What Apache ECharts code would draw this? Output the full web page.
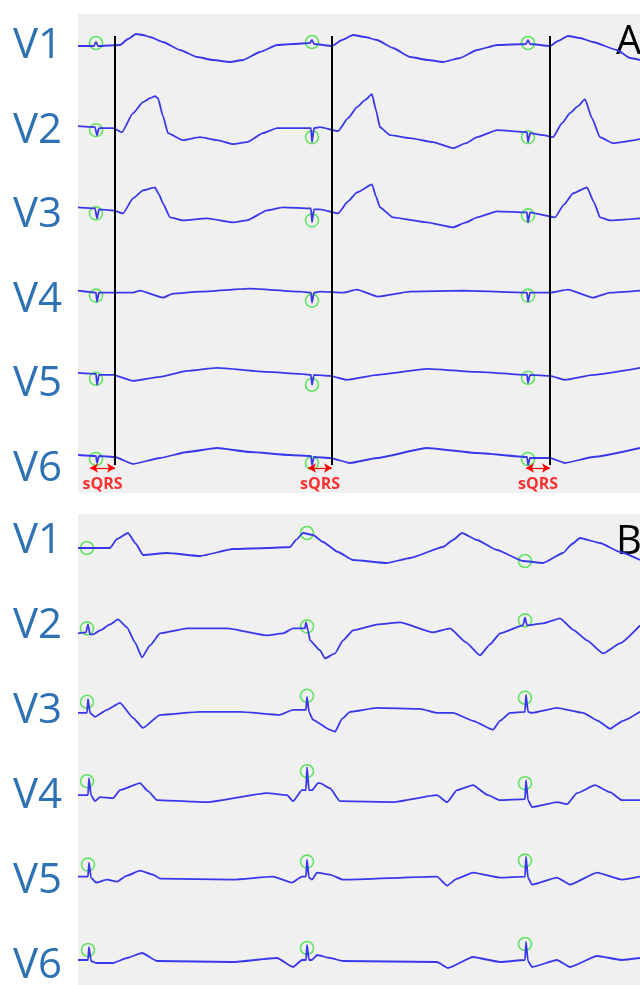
<!DOCTYPE html>
<html><head><meta charset="utf-8">
<script src="https://cdn.jsdelivr.net/npm/echarts@6/dist/echarts.min.js"></script>
<style>html,body{margin:0;padding:0;background:#fff}#c{width:640px;height:985px}</style>
</head><body><div id="c"></div>
<script>
// ---- data: [time, amplitude] per lead ----
const leads = ['V1','V2','V3','V4','V5','V6'];
const panels = ['A','B'];
const aV1=[[0,0],[16,0],[18,4],[20,0],[42,1],[50,7],[58,12],[65,11],[72,9],[85,4],[102,-4],[119,-11],[135,-14],[152,-16],[165,-14],[182,-6],[199,1],[215,2],[232,3],[234,6],[236,2],[254,0],[264,6],[275,11],[287,9],[299,6],[315,-2],[332,-11],[350,-14],[365,-16],[382,-12],[399,-4],[419,1],[448,2],[450,6],[452,2],[472,0],[480,5],[490,10],[502,8],[515,4],[539,-4],[552,-12],[562,-14]];
const aV2=[[0,2],[17,1],[19,-7],[21,0],[35,0],[44,-4],[55,15],[65,26],[72,30],[77,32],[80,30],[85,12],[90,-5],[105,-12],[122,-9],[139,-12],[155,-16],[169,-14],[185,-5],[199,0],[233,0],[234,-14],[236,0],[242,1],[260,-3],[270,10],[279,21],[287,28],[294,34],[298,18],[302,1],[312,-7],[332,-10],[355,-14],[375,-20],[388,-15],[399,-9],[419,-2],[449,-4],[450,-14],[452,-5],[465,-7],[475,-9],[484,5],[492,15],[500,22],[507,29],[514,10],[522,-9],[535,-15],[562,-11]];
const aV3=[[0,3],[17,2],[19,-8],[21,1],[35,0],[45,-3],[55,12],[65,20],[77,23],[81,16],[85,7],[92,-7],[105,-10],[129,-8],[155,-12],[169,-10],[189,0],[205,3],[233,2],[234,-12],[236,1],[242,1],[260,-3],[270,9],[279,18],[294,26],[298,14],[302,3],[315,-7],[349,-12],[375,-17],[388,-12],[399,-7],[419,-1],[449,-2],[450,-12],[452,-2],[477,-7],[486,6],[495,17],[509,23],[516,8],[522,-7],[532,-10],[562,-8]];
const aV4=[[0,2],[18,0],[19,-9],[21,0],[35,0],[55,0],[62,2],[85,-5],[95,-1],[122,1],[172,4],[222,1],[233,0],[234,-10],[236,0],[242,1],[265,0],[279,3],[300,-4],[332,1],[385,2],[449,0],[450,-9],[452,0],[472,0],[490,3],[515,-5],[532,0],[562,2]];
const aV5=[[0,2],[18,1],[19,-10],[21,0],[35,0],[55,-6],[82,-2],[109,4],[139,7],[189,3],[222,1],[233,0],[234,-10],[236,0],[252,-1],[269,-5],[299,0],[349,6],[399,3],[449,0],[450,-8],[452,0],[472,-1],[487,-5],[515,0],[562,7]];
const aV6=[[0,2],[18,1],[19,-6],[21,1],[37,0],[55,-7],[82,-1],[109,5],[139,9],[172,5],[212,2],[233,1],[234,-8],[236,0],[252,-1],[272,-6],[299,-1],[349,9],[399,4],[449,0],[450,-8],[452,-1],[472,-1],[487,-6],[515,0],[562,9]];
const bV1=[[0,0],[32,0],[39,9],[50,15],[58,4],[65,-7],[89,-5],[122,-8],[155,-1],[189,0],[212,1],[218,8],[225,15],[235,13],[245,6],[260,-4],[275,-12],[309,-15],[332,-10],[365,1],[375,8],[384,15],[399,8],[419,-2],[445,-13],[465,-15],[485,-5],[494,4],[502,10],[522,5],[542,-4],[562,-12]];
const bV2=[[0,-3],[8,-2],[10,6],[12,-4],[15,-4],[22,0],[32,6],[40,11],[49,3],[57,-12],[64,-27],[72,-15],[82,-3],[109,2],[149,2],[189,-5],[205,-3],[215,2],[227,2],[228,8],[230,0],[232,-10],[242,-20],[247,-28],[257,-23],[265,-10],[275,0],[300,6],[322,8],[355,-2],[372,2],[388,-12],[402,-25],[412,-14],[422,-3],[445,5],[447,13],[449,5],[465,7],[482,12],[496,0],[509,-10],[525,-23],[542,-13],[562,5]];
const bV3=[[0,0],[9,0],[10,14],[12,0],[17,-4],[29,3],[42,10],[55,-5],[65,-15],[82,-2],[122,1],[162,1],[202,-2],[215,3],[228,3],[229,16],[231,1],[235,-7],[252,-17],[257,-19],[264,-6],[272,1],[299,5],[342,4],[359,0],[375,0],[395,-8],[415,-17],[422,-8],[432,0],[447,1],[448,18],[450,1],[454,0],[479,5],[505,0],[520,-8],[532,-16],[545,-8],[562,1]];
const bV4=[[0,0],[10,0],[11,17],[13,0],[17,-6],[22,-2],[35,-3],[42,5],[62,12],[70,4],[79,-5],[129,-7],[189,2],[209,0],[215,-6],[224,5],[228,5],[229,28],[231,5],[234,5],[240,12],[242,12],[252,7],[262,-6],[315,-7],[359,0],[369,-7],[379,5],[395,10],[410,0],[422,-5],[447,-4],[448,15],[450,-5],[454,-12],[479,-7],[489,-9],[499,2],[517,10],[532,3],[544,-5],[562,-5]];
const bV5=[[0,1],[10,1],[11,15],[13,0],[18,-5],[29,-2],[39,-4],[49,2],[62,7],[75,3],[82,-1],[155,-2],[195,1],[214,-5],[224,1],[228,1],[229,18],[231,0],[234,-2],[239,5],[252,3],[265,-2],[359,1],[369,-8],[379,-1],[395,5],[422,0],[447,1],[448,21],[450,0],[454,-7],[479,0],[492,-7],[519,5],[544,-2],[562,1]];
const bV6=[[0,0],[10,0],[11,13],[13,-1],[18,-3],[35,-3],[49,2],[64,7],[79,-1],[155,-2],[199,2],[215,-7],[224,0],[228,0],[229,15],[231,0],[234,0],[239,5],[252,2],[265,-1],[359,-2],[370,-8],[395,3],[422,-2],[447,0],[448,18],[450,-1],[454,-7],[479,0],[492,-7],[519,4],[544,0],[562,2]];
// detected marks (green circles): [time, amplitude] per lead
const aMarks=[[[18,3],[234,4],[450,3]],[[18,-2],[234,-9],[450,-9]],[[18,-3],[234,-10],[450,-5]],[[18,-3],[234,-8],[450,-3]],[[18,-4],[234,-10],[450,-3]],[[18,-2],[234,-6],[450,-2]]];
const bMarks=[[[9,0],[229,15],[447,-13]],[[9,2],[229,4],[447,10]],[[9,11],[229,17],[447,15]],[[9,14],[229,24],[447,12]],[[10,13],[229,16],[447,17]],[[10,10],[229,12],[447,16]]];
const sqrsStart=[12,230,448];
const sqrsEnd=[37,254,472];
const sqrsText='sQRS';

// ---- layout ----
const X0=78, W=562;
const P=[
  {top:14,h:479,max:32,sp:82.2,data:[aV1,aV2,aV3,aV4,aV5,aV6],marks:aMarks,labY0:43,labSp:84.6},
  {top:514,h:471,max:34,sp:82.4,data:[bV1,bV2,bV3,bV4,bV5,bV6],marks:bMarks,labY0:538,labSp:85}
];
const chart=echarts.init(document.getElementById('c'),null,{renderer:'canvas'});
const grid=[],xAxis=[],yAxis=[],series=[],graphic=[];
P.forEach((p,k)=>{
  grid.push({left:X0,top:p.top,width:W,height:p.h,show:true,backgroundColor:'#f0f0f0',borderWidth:0});
  xAxis.push({gridIndex:k,type:'value',min:0,max:W,show:false});
  yAxis.push({gridIndex:k,type:'value',min:p.max-p.h,max:p.max,show:false});
  p.data.forEach((d,i)=>{
    const off=-i*p.sp;
    series.push({type:'scatter',xAxisIndex:k,yAxisIndex:k,symbol:'circle',symbolSize:13,z:2,
      itemStyle:{color:'rgba(0,0,0,0)',borderColor:'#3fe03f',borderWidth:1.6},
      data:p.marks[i].map(([t,a])=>[t,a+off]),silent:true});
    series.push({type:'line',xAxisIndex:k,yAxisIndex:k,showSymbol:false,z:3,smooth:0.15,smoothMonotone:'x',
      lineStyle:{color:'#3838ea',width:1.8},data:d.map(([t,a])=>[t,a+off]),silent:true});
  });
  graphic.push(...leads.map((l,i)=>({type:'text',x:13,y:p.labY0+i*p.labSp+3,
    style:{text:l,fill:'#2e72b4',font:'42px "Open Sans"',verticalAlign:'middle'}})));
  graphic.push({type:'text',x:616,y:p.top+29,style:{text:panels[k],fill:'#000',font:'40px "Open Sans"',verticalAlign:'middle'}});
});
// sQRS markers on panel A
const yTopV=10, yBotV=-419, yArr=-422, yTxt=-438;
series.push({type:'line',xAxisIndex:0,yAxisIndex:0,data:[],z:5,
  markLine:{silent:true,symbol:'none',label:{show:false},lineStyle:{color:'#000',width:2,type:'solid'},
    data:sqrsEnd.map(t=>[{coord:[t,yTopV]},{coord:[t,yBotV]}])}});
series.push({type:'line',xAxisIndex:0,yAxisIndex:0,data:[],z:6,
  markLine:{silent:true,symbol:['arrow','arrow'],symbolSize:[7,8],label:{show:false},lineStyle:{color:'#ff0000',width:1.2,type:'solid'},
    data:sqrsStart.map((t,i)=>[{coord:[t,yArr]},{coord:[sqrsEnd[i],yArr]}])}});
series.push({type:'scatter',xAxisIndex:0,yAxisIndex:0,symbolSize:0,clip:false,z:7,
  data:sqrsStart.map((t,i)=>[(t+sqrsEnd[i])/2,yTxt]),
  label:{show:true,position:'inside',formatter:sqrsText,color:'#ff0000',fontWeight:'bold',fontSize:16,fontFamily:'Open Sans'}});
chart.setOption({animation:false,grid,xAxis,yAxis,series,graphic});
</script></body></html>
